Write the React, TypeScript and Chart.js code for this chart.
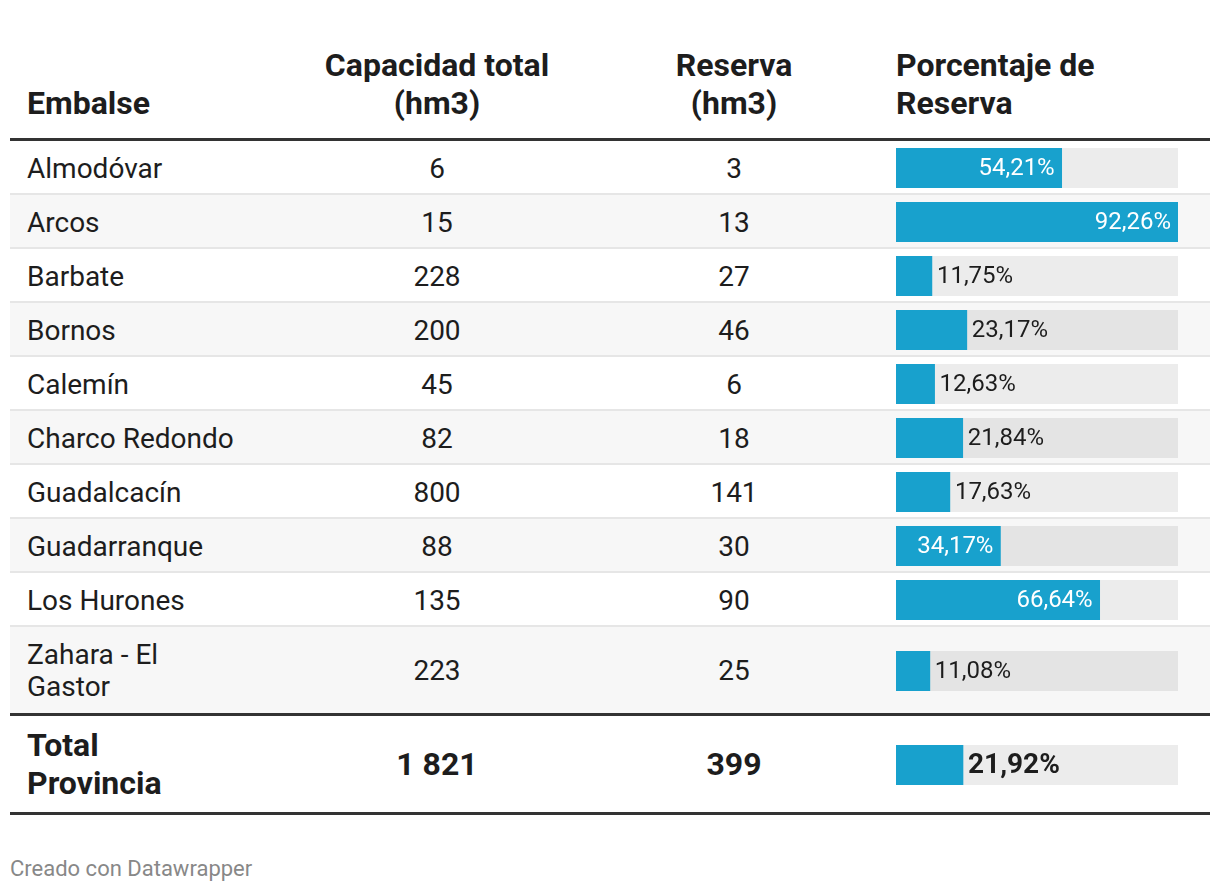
import React, { useEffect, useRef } from "react";
import { Chart, registerables } from "chart.js";

Chart.register(...registerables);

const EMBALSES = [
  "Almodóvar",
  "Arcos",
  "Barbate",
  "Bornos",
  "Calemín",
  "Charco Redondo",
  "Guadalcacín",
  "Guadarranque",
  "Los Hurones",
  "Zahara - El\nGastor",
];
const CAPACIDAD = [6, 15, 228, 200, 45, 82, 800, 88, 135, 223];
const RESERVA = [3, 13, 27, 46, 6, 18, 141, 30, 90, 25];
const PORCENTAJE = [54.21, 92.26, 11.75, 23.17, 12.63, 21.84, 17.63, 34.17, 66.64, 11.08];

const TOTAL_NOMBRE = "Total\nProvincia";
const TOTAL_CAPACIDAD = 1821;
const TOTAL_RESERVA = 399;
const TOTAL_PORCENTAJE = 21.92;

const HEADERS = ["Embalse", "Capacidad total\n(hm3)", "Reserva\n(hm3)", "Porcentaje de\nReserva"];
const PCT_MAX = Math.max(...PORCENTAJE, TOTAL_PORCENTAJE);

const BLUE = "#18a1cd";
const TRACK = "rgba(0,0,0,0.075)";
const TEXT = "#1d1d1d";
const FONT = "Roboto, 'Noto Sans', sans-serif";

const fmtNum = (n: number) => String(n).replace(/\B(?=(\d{3})+(?!\d))/g, " ");
const fmtPct = (n: number) => n.toFixed(2).replace(".", ",") + "%";

function PctBar({ value, bold }: { value: number; bold?: boolean }) {
  const ref = useRef<HTMLCanvasElement | null>(null);
  useEffect(() => {
    if (!ref.current) return;
    const fontSpec = bold ? `bold 28px ${FONT}` : `24px ${FONT}`;
    const chart = new Chart(ref.current, {
      type: "bar",
      data: {
        labels: [""],
        datasets: [
          {
            data: [value],
            backgroundColor: BLUE,
            borderWidth: 0,
            barPercentage: 1,
            categoryPercentage: 1,
          },
        ],
      },
      options: {
        indexAxis: "y",
        animation: false,
        responsive: false,
        events: [],
        layout: { padding: 0 },
        scales: {
          x: { display: false, min: 0, max: PCT_MAX },
          y: { display: false },
        },
        plugins: { legend: { display: false }, tooltip: { enabled: false } },
      },
      plugins: [
        {
          id: "track",
          beforeDatasetsDraw(c: any) {
            const a = c.chartArea;
            const ctx = c.ctx;
            ctx.save();
            ctx.fillStyle = TRACK;
            ctx.fillRect(a.left, a.top, a.right - a.left, a.bottom - a.top);
            ctx.restore();
          },
        },
        {
          id: "label",
          afterDatasetsDraw(c: any) {
            const el = c.getDatasetMeta(0).data[0];
            const a = c.chartArea;
            const ctx = c.ctx;
            const txt = fmtPct(value);
            ctx.save();
            ctx.font = fontSpec;
            ctx.textBaseline = "middle";
            const w = ctx.measureText(txt).width;
            const barW = el.x - a.left;
            if (barW >= w + 16) {
              ctx.fillStyle = "#ffffff";
              ctx.textAlign = "right";
              ctx.fillText(txt, el.x - 7, el.y + 1);
            } else {
              ctx.fillStyle = TEXT;
              ctx.textAlign = "left";
              ctx.fillText(txt, el.x + 5, el.y + 1);
            }
            ctx.restore();
          },
        },
      ],
    } as any);
    return () => chart.destroy();
  }, [value, bold]);
  return (
    <canvas
      ref={ref}
      width={282}
      height={40}
      style={{ display: "block", width: 282, height: 40, margin: "-4px 0", position: "relative", top: 1 }}
    />
  );
}

const COLS = [290, 274, 320, 316];

export default function App() {
  const cell = (i: number, extra: React.CSSProperties = {}): React.CSSProperties => ({
    width: COLS[i],
    boxSizing: "border-box",
    textAlign: i === 1 || i === 2 ? "center" : "left",
    paddingLeft: i === 0 ? 17 : i === 3 ? 2 : 0,
    whiteSpace: "pre-line",
    display: "flex",
    flexDirection: "column",
    justifyContent: "center",
    ...extra,
  });

  return (
    <div style={{ fontFamily: FONT, color: TEXT, paddingLeft: 2, paddingTop: 38, width: 1200 }}>
      <div
        style={{
          display: "flex",
          alignItems: "flex-end",
          fontWeight: 700,
          fontSize: 32,
          lineHeight: "38px",
          paddingBottom: 16,
          borderBottom: "3px solid #333",
        }}
      >
        {HEADERS.map((h, i) => (
          <div key={i} style={cell(i, { justifyContent: "flex-end" })}>
            {h}
          </div>
        ))}
      </div>
      {EMBALSES.map((name, r) => (
        <div
          key={r}
          style={{
            display: "flex",
            fontSize: 28,
            lineHeight: "32px",
            padding: r === EMBALSES.length - 1 ? "11px 0" : "10px 0",
            background: r % 2 === 1 ? "#f7f7f7" : "#ffffff",
            borderBottom: r === EMBALSES.length - 1 ? "3px solid #333" : "2px solid #e6e6e6",
          }}
        >
          <div style={cell(0, { position: "relative", top: r === EMBALSES.length - 1 ? 1 : 2 })}>{name}</div>
          <div style={cell(1, { position: "relative", top: r === EMBALSES.length - 1 ? 1 : 2 })}>
            {fmtNum(CAPACIDAD[r])}
          </div>
          <div style={cell(2, { position: "relative", top: r === EMBALSES.length - 1 ? 1 : 2 })}>
            {fmtNum(RESERVA[r])}
          </div>
          <div style={cell(3)}>
            <PctBar value={PORCENTAJE[r]} />
          </div>
        </div>
      ))}
      <div
        style={{
          display: "flex",
          fontSize: 32,
          fontWeight: 700,
          lineHeight: "38px",
          padding: "10px 0",
          borderBottom: "3px solid #333",
        }}
      >
        <div style={cell(0)}>{TOTAL_NOMBRE}</div>
        <div style={cell(1)}>{fmtNum(TOTAL_CAPACIDAD)}</div>
        <div style={cell(2)}>{fmtNum(TOTAL_RESERVA)}</div>
        <div style={cell(3)}>
          <PctBar value={TOTAL_PORCENTAJE} bold />
        </div>
      </div>
      <div style={{ marginTop: 41, fontSize: 22, color: "#888", lineHeight: "26px" }}>Creado con Datawrapper</div>
    </div>
  );
}
